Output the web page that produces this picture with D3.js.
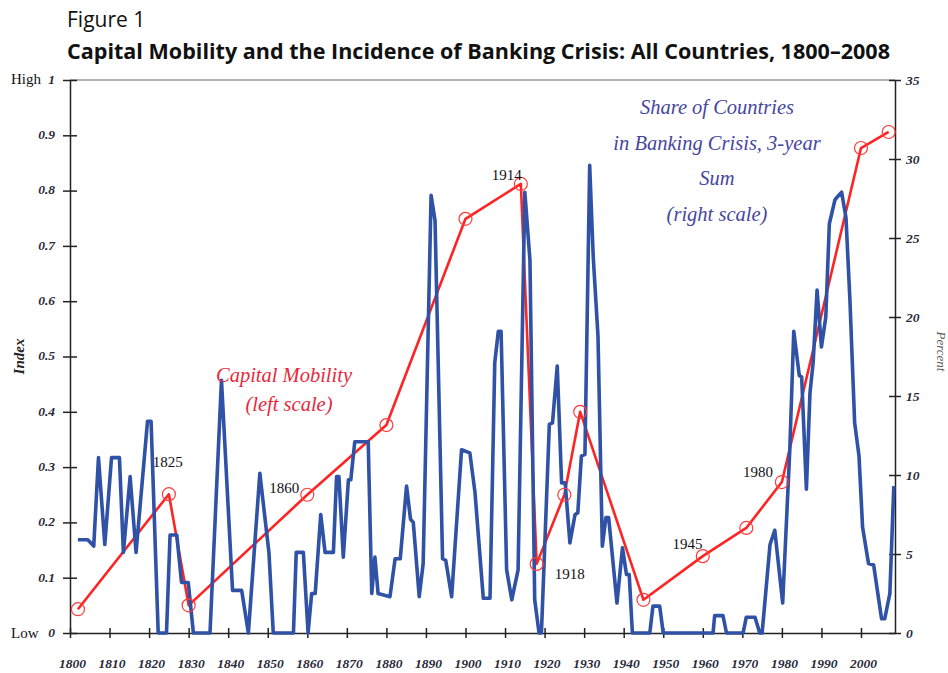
<!DOCTYPE html>
<html>
<head>
<meta charset="utf-8">
<script src="https://cdn.jsdelivr.net/npm/d3@7"></script>
<style>
  body { margin: 0; background: #fff; }
  svg { display: block; }
  .tick-label { font-family: "Liberation Serif", serif; font-style: italic; font-weight: bold; font-size: 13.5px; fill: #2a2a3a; }
  .year-note { font-family: "Liberation Serif", serif; font-size: 15px; fill: #111; }
</style>
</head>
<body>
<svg width="948" height="673"></svg>
<script>
"use strict";

// capital mobility index (left scale)
const mobilityYears = [1802, 1825, 1830, 1860, 1880, 1900, 1914, 1918, 1925, 1929, 1945, 1960, 1971, 1980, 2000, 2007];
const mobilityIndex = [0.043, 0.251, 0.05, 0.25, 0.376, 0.749, 0.812, 0.125, 0.25, 0.40, 0.06, 0.139, 0.19, 0.273, 0.877, 0.906];

// share of countries in banking crisis, 3-year sum (right scale, percent)
const crisisYears = [
  1802, 1804.5, 1806, 1807.2, 1808.8, 1810.5, 1812.5, 1813.5, 1815.2, 1816.7,
  1819.6, 1820.5, 1822.3, 1824.4, 1825.3, 1827, 1828.2, 1829.9, 1831.2, 1835.4,
  1838.3, 1841.1, 1843.4, 1845.1, 1848, 1850.3, 1851.4, 1856.5, 1857.2, 1859,
  1860.2, 1861.1, 1862, 1863.4, 1864.5, 1866.6, 1867.4, 1868, 1869.1, 1870.4,
  1871, 1872, 1875.4, 1876.3, 1877.1, 1877.9, 1880.9, 1882.2, 1883.5, 1885.1,
  1886.1, 1886.8, 1888.3, 1889.3, 1891.3, 1892.3, 1894.2, 1895, 1896.5, 1899,
  1901.1, 1902.4, 1904.5, 1906.2, 1907.4, 1908.3, 1909, 1910.4, 1911.7, 1913.3,
  1915, 1916.3, 1917.5, 1918.6, 1919.2, 1921.2, 1922, 1923.2, 1924.3, 1925.2,
  1926.4, 1927.7, 1928.4, 1929.3, 1930.2, 1931.4, 1932.3, 1933.5, 1934.6, 1935.5,
  1936.2, 1938.3, 1939.7, 1940.7, 1941.4, 1942.2, 1946.6, 1947.4, 1949.1, 1950,
  1962.6, 1963, 1965.1, 1966, 1970.2, 1971, 1973.2, 1974.4, 1975, 1977,
  1978.2, 1980.2, 1982, 1983, 1984.4, 1985, 1986.2, 1987.1, 1987.9, 1988.9,
  1990, 1991.1, 1992, 1993.4, 1994, 1995.1, 1996.2, 1997.2, 1998.4, 1999.5,
  2000.4, 2001.9, 2003.2, 2005.2, 2006, 2007.3, 2008.3
];
const crisisShare = [
  5.9, 5.9, 5.5, 11.1, 5.6, 11.1, 11.1, 5.1, 9.9, 5.1,
  13.4, 13.4, 0, 0, 6.2, 6.2, 3.2, 3.2, 0, 0,
  16.0, 2.7, 2.7, 0, 10.1, 5.1, 0, 0, 5.1, 5.1,
  0, 2.5, 2.5, 7.5, 5.1, 5.1, 9.9, 9.9, 4.8, 9.7,
  9.7, 12.1, 12.1, 2.5, 4.8, 2.5, 2.3, 4.7, 4.7, 9.3,
  7.2, 7.0, 2.3, 4.4, 27.7, 26.1, 4.7, 4.6, 2.3, 11.6,
  11.4, 8.9, 2.2, 2.2, 17.1, 19.1, 19.1, 4.0, 2.1, 4.0,
  27.9, 23.6, 2.1, 0, 0, 13.2, 13.3, 16.9, 9.5, 9.5,
  5.7, 7.5, 7.6, 11.2, 11.3, 29.6, 23.8, 18.8, 5.5, 7.3,
  7.3, 1.9, 5.4, 3.7, 3.7, 0, 0, 1.7, 1.7, 0,
  0, 1.1, 1.1, 0, 0, 1.0, 1.0, 0, 0, 5.6,
  6.5, 1.9, 11.6, 19.1, 16.3, 16.2, 9.1, 15.2, 17.1, 21.7,
  18.1, 20.0, 25.9, 27.4, 27.6, 27.9, 26.3, 21.1, 13.3, 11.2,
  6.7, 4.4, 4.3, 0.9, 0.9, 2.5, 9.3
];

const leftTicks = [0, 0.1, 0.2, 0.3, 0.4, 0.5, 0.6, 0.7, 0.8, 0.9, 1];
const rightTicks = [0, 5, 10, 15, 20, 25, 30, 35];
const yearTicks = d3.range(1800, 2001, 10);

// labelled mobility points
const noteYears = ["1825", "1860", "1914", "1918", "1945", "1980"];

const svg = d3.select("svg");
const margin = { top: 80, right: 53, bottom: 40, left: 70 };
const width = +svg.attr("width");
const height = +svg.attr("height");
const plotBottom = height - margin.bottom;
const plotRight = width - margin.right;

const x = d3.scaleLinear().domain([1800, 2008.6]).range([margin.left, plotRight]);
const yLeft = d3.scaleLinear().domain([0, 1]).range([plotBottom, margin.top]);
const yRight = d3.scaleLinear().domain([0, 35]).range([plotBottom, margin.top]);

// title
svg.append("text")
  .attr("x", 67).attr("y", 27)
  .style("font-family", "'Open Sans', sans-serif")
  .style("font-size", "21px")
  .attr("fill", "#111")
  .text("Figure 1");

svg.append("text")
  .attr("x", 67).attr("y", 59)
  .style("font-family", "'Open Sans', sans-serif")
  .style("font-size", "21px")
  .style("font-weight", "bold")
  .attr("fill", "#111")
  .attr("textLength", 823)
  .attr("lengthAdjust", "spacingAndGlyphs")
  .text("Capital Mobility and the Incidence of Banking Crisis: All Countries, 1800–2008");

// frame top
svg.append("line")
  .attr("x1", margin.left).attr("x2", plotRight)
  .attr("y1", margin.top).attr("y2", margin.top)
  .attr("stroke", "#666").attr("stroke-width", 1.2);

// left axis
const leftAxisG = svg.append("g")
  .attr("transform", `translate(${margin.left},0)`)
  .call(d3.axisLeft(yLeft).tickValues(leftTicks).tickSize(0)
    .tickFormat(d => (d === 0 || d === 1 ? d3.format("d")(d) : d3.format(".1f")(d))));
leftAxisG.select(".domain").attr("stroke", "#222").attr("stroke-width", 1.5);
leftAxisG.selectAll(".tick line").attr("x1", -7).attr("x2", 7).attr("stroke", "#222").attr("stroke-width", 1.5);
leftAxisG.selectAll(".tick text").attr("class", "tick-label").attr("x", -15).attr("dy", "0.25em");

svg.append("text").attr("x", 11).attr("y", yLeft(1) + 4)
  .style("font-family", "'Liberation Serif', serif").style("font-size", "15px").attr("fill", "#111")
  .text("High");
svg.append("text").attr("x", 11).attr("y", yLeft(0) + 5)
  .style("font-family", "'Liberation Serif', serif").style("font-size", "15px").attr("fill", "#111")
  .text("Low");

svg.append("text")
  .attr("transform", `translate(24,${yLeft(0.5)}) rotate(-90)`)
  .attr("text-anchor", "middle")
  .style("font-family", "'Liberation Serif', serif").style("font-style", "italic")
  .style("font-weight", "bold").style("font-size", "15px").attr("fill", "#222")
  .text("Index");

// right axis
const rightAxisG = svg.append("g")
  .attr("transform", `translate(${plotRight},0)`)
  .call(d3.axisRight(yRight).tickValues(rightTicks).tickSize(0));
rightAxisG.select(".domain").attr("stroke", "#222").attr("stroke-width", 1.5);
rightAxisG.selectAll(".tick line").attr("x1", -6).attr("x2", 6).attr("stroke", "#222").attr("stroke-width", 1.5);
rightAxisG.selectAll(".tick text").attr("class", "tick-label").attr("x", 11).attr("dy", "0.3em");

svg.append("text")
  .attr("transform", `translate(937,${yRight(17.5) - 5}) rotate(90)`)
  .attr("text-anchor", "middle")
  .style("font-family", "'Liberation Serif', serif").style("font-style", "italic")
  .style("font-size", "13px").attr("fill", "#555")
  .text("Percent");

// bottom axis
const xAxisG = svg.append("g")
  .attr("transform", `translate(0,${plotBottom})`)
  .call(d3.axisBottom(x).tickValues(yearTicks).tickSize(0).tickFormat(d3.format("d")));
xAxisG.select(".domain").attr("stroke", "#222").attr("stroke-width", 1.5);
xAxisG.selectAll(".tick line").attr("y1", -5).attr("y2", 5).attr("stroke", "#222").attr("stroke-width", 1.5);
xAxisG.selectAll(".tick text").attr("class", "tick-label").attr("y", 35).attr("dy", 0).attr("dx", 2);

// banking crisis series
const crisisData = crisisYears.map((yr, i) => ({ year: yr, value: crisisShare[i] }));
const mobilityData = mobilityYears.map((yr, i) => ({ year: yr, value: mobilityIndex[i] }));

svg.append("path")
  .datum(mobilityData)
  .attr("fill", "none")
  .attr("stroke", "#ff2424")
  .attr("stroke-width", 2.6)
  .attr("stroke-linejoin", "round")
  .attr("d", d3.line().x(d => x(d.year)).y(d => yLeft(d.value)));

svg.append("path")
  .datum(crisisData)
  .attr("fill", "none")
  .attr("stroke", "#2f51a6")
  .attr("stroke-width", 3.6)
  .attr("stroke-linejoin", "round")
  .attr("d", d3.line().x(d => x(d.year)).y(d => yRight(d.value)));

svg.selectAll("circle.mob")
  .data(mobilityData)
  .enter()
  .append("circle")
  .attr("class", "mob")
  .attr("cx", d => x(d.year))
  .attr("cy", d => yLeft(d.value))
  .attr("r", 6.5)
  .attr("fill", "none")
  .attr("stroke", "#ff3a3a")
  .attr("stroke-width", 1.2);

// year notes next to the mobility points
const noteOffset = {
  "1825": [-16, -27], "1860": [-38, -2], "1914": [-29, -4],
  "1918": [18, 15], "1945": [29, -51], "1980": [-39, -5]
};
noteYears.forEach(label => {
  const i = mobilityYears.indexOf(+label);
  const off = noteOffset[label];
  svg.append("text")
    .attr("class", "year-note")
    .attr("x", x(mobilityYears[i]) + off[0])
    .attr("y", yLeft(mobilityIndex[i]) + off[1])
    .text(label);
});

// series notes
const redNote = svg.append("text")
  .attr("text-anchor", "middle")
  .style("font-family", "'Liberation Serif', serif").style("font-style", "italic")
  .style("font-size", "20.5px").attr("fill", "#e8283c");
redNote.append("tspan").attr("x", 284).attr("y", 382).text("Capital Mobility");
redNote.append("tspan").attr("x", 289).attr("y", 411).text("(left scale)");

const blueNote = svg.append("text")
  .attr("text-anchor", "middle")
  .style("font-family", "'Liberation Serif', serif").style("font-style", "italic")
  .style("font-size", "20.5px").attr("fill", "#4646a0");
["Share of Countries", "in Banking Crisis, 3-year", "Sum", "(right scale)"].forEach((t, i) => {
  blueNote.append("tspan").attr("x", 717).attr("y", 114 + i * 35.5).text(t);
});
</script>
</body>
</html>
